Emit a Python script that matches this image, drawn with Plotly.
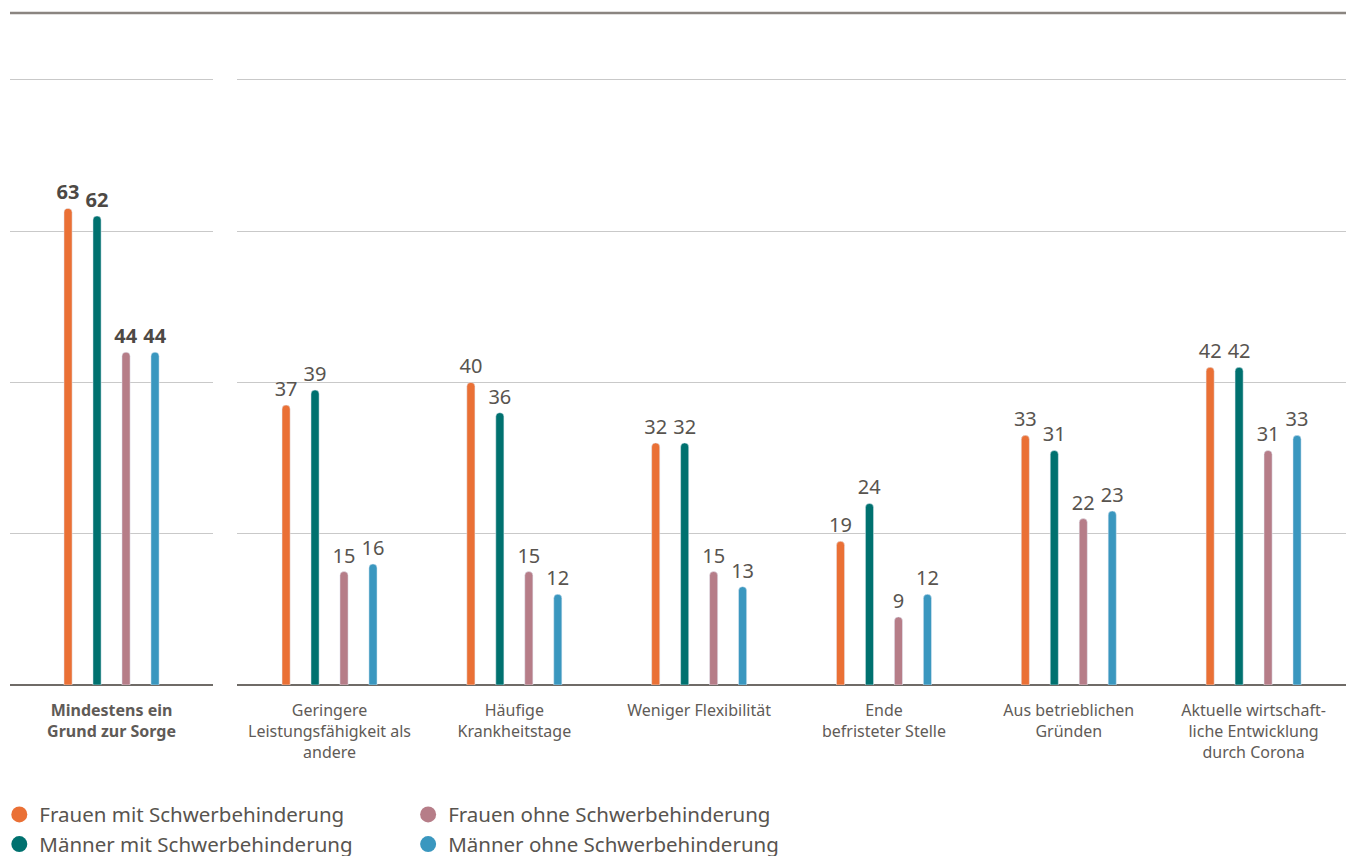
"""Sorgen um den Arbeitsplatz – Balkendiagramm in zwei Panels."""

import plotly.graph_objects as go

main_category = ["<b>Mindestens ein<br>Grund zur Sorge</b>"]
categories = [
    "Geringere<br>Leistungsfähigkeit als<br>andere",
    "Häufige<br>Krankheitstage",
    "Weniger Flexibilität",
    "Ende<br>befristeter Stelle",
    "Aus betrieblichen<br>Gründen",
    "Aktuelle wirtschaft-<br>liche Entwicklung<br>durch Corona",
]

series = [
    "Frauen mit Schwerbehinderung",
    "Männer mit Schwerbehinderung",
    "Frauen ohne Schwerbehinderung",
    "Männer ohne Schwerbehinderung",
]
colors = ["#EA7035", "#00716F", "#B67D88", "#3A97BF"]

main_values = [63, 62, 44, 44]
frauen_mit = [37, 40, 32, 19, 33, 42]
maenner_mit = [39, 36, 32, 24, 31, 42]
frauen_ohne = [15, 15, 15, 9, 22, 31]
maenner_ohne = [16, 12, 13, 12, 23, 33]
detail_values = [frauen_mit, maenner_mit, frauen_ohne, maenner_ohne]

FONT = "Noto Sans"
TEXT = "#58544f"

fig = go.Figure()

for i, name in enumerate(series):
    fig.add_trace(go.Bar(
        x=main_category, y=[main_values[i]],
        marker_color=colors[i], name=name, showlegend=False,
        text=[f"<b>{main_values[i]}</b>"], textposition="outside",
        textfont=dict(size=20, color="#4d4945", family=FONT),
        cliponaxis=False, xaxis="x", yaxis="y",
    ))
    fig.add_trace(go.Bar(
        x=categories, y=detail_values[i],
        marker_color=colors[i], name=name, showlegend=False,
        text=[str(v) for v in detail_values[i]], textposition="outside",
        textfont=dict(size=20, color=TEXT, family=FONT),
        cliponaxis=False, xaxis="x2", yaxis="y2",
    ))

# legend entries with round symbols, split in two columns
for i, name in enumerate(series):
    fig.add_trace(go.Scatter(
        x=[None], y=[None], mode="markers", name=name,
        marker=dict(color=colors[i], size=18, symbol="circle"),
        legend="legend" if i < 2 else "legend2",
        xaxis="x2", yaxis="y2",
    ))

yaxis_style = dict(
    range=[0, 80.5], tickvals=[0, 20, 40, 60, 80], showticklabels=False,
    showgrid=True, gridcolor="#c9c9c9", gridwidth=1,
    zeroline=True, zerolinecolor="#6f6b67", zerolinewidth=2,
    fixedrange=True, automargin=False,
)
xaxis_style = dict(
    type="category", showline=False, ticks="", automargin=False,
    ticklabelstandoff=14,
    tickfont=dict(size=16, color="#5f5b57", family=FONT),
)

legend_style = dict(
    orientation="v", yanchor="top", y=-0.180, xanchor="left",
    font=dict(size=20.5, color=TEXT, family=FONT),
    bgcolor="rgba(0,0,0,0)", tracegroupgap=0, itemsizing="trace",
)

fig.update_layout(
    width=1351, height=856,
    margin=dict(l=10, r=5, t=76, b=171, autoexpand=False),
    paper_bgcolor="white", plot_bgcolor="white",
    barmode="group", bargap=0.373, bargroupgap=0.72, barcornerradius=4,
    font=dict(family=FONT, color=TEXT),
    xaxis=dict(domain=[0, 0.152], range=[-0.549, 0.549], **xaxis_style),
    xaxis2=dict(domain=[0.17, 1], range=[-0.5, 5.5], **xaxis_style),
    yaxis=dict(anchor="x", **yaxis_style),
    yaxis2=dict(anchor="x2", **yaxis_style),
    legend=dict(x=-0.008, **legend_style),
    legend2=dict(x=0.298, **legend_style),
    shapes=[dict(
        type="line", xref="paper", yref="paper",
        x0=0, x1=1, y0=1.1034, y1=1.1034,
        line=dict(color="#8a8580", width=2.5),
    )],
)
fig.update_traces(constraintext="none", selector=dict(type="bar"))

# drop the browser's default body margin so the figure fills the window
fig.write_html(
    "out.html",
    config={"displayModeBar": False},
    post_script="document.body.style.margin = '0';",
)
